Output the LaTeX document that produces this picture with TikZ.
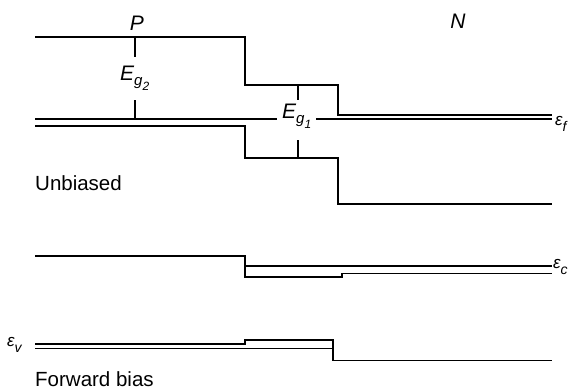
\documentclass[tikz,border=0pt]{standalone}
\usepackage{fontspec}
\setmainfont{Liberation Sans}
% band-gap label E with a twice-lowered subscript g_n
\newcommand\gaplabel[1]{E\raisebox{-0.27em}{\fontsize{15}{15}\selectfont g\raisebox{-0.3em}{\fontsize{12}{12}\selectfont #1}}}
% energy level symbol with a lowered subscript
\newcommand\enlevel[1]{\fontsize{17}{18}\selectfont\itshape\char"03B5\raisebox{-0.4em}{\fontsize{14}{14}\selectfont #1}}
\begin{document}
\begin{tikzpicture}[x=1pt,y=-1pt,
  band/.style={line width=1.9pt},
  level/.style={line width=1.3pt},
  lbl/.style={font=\fontsize{21}{22}\selectfont\itshape, inner sep=0pt},
  sym/.style={inner sep=0pt, anchor=base west},
  caption/.style={font=\fontsize{20.5}{22}\selectfont, anchor=base west, inner sep=0pt}]
\useasboundingbox (0,0) rectangle (571,389);

% ---------- unbiased junction ----------
\node[lbl, anchor=base] (P) at (137,30) {P};
\node[lbl, anchor=base] (N) at (458,28) {N};

% conduction band edge
\draw[band] (35,37) -- (245,37) -- (245,85) -- (338,85) -- (338,115) -- (552,115);
% Fermi level, broken around the E_g1 label
\draw[level] (35,119) -- (277,119);
\draw[level] (316,119) -- (552,119);
% valence band edge
\draw[band] (35,126) -- (245,126) -- (245,158) -- (338,158) -- (338,204) -- (552,204);

% gap markers
\node[lbl, anchor=base west] (eg2) at (120,80) {\gaplabel{2}};
\draw[level] (135,37) -- (135,57);
\draw[level] (135,100) -- (135,119);
\node[lbl, anchor=base west] (eg1) at (282,118) {\gaplabel{1}};
\draw[level] (298,85) -- (298,100);
\draw[level] (298,140) -- (298,158);

\node[sym] (ef) at (555,125) {\enlevel{f}};
\node[caption] (unb) at (35,190) {Unbiased};

% ---------- forward bias ----------
\draw[band] (35,256) -- (245,256) -- (245,277) -- (342,277) -- (342,273.5) -- (552,273.5);
\draw[level] (245,266) -- (552,266);
\node[sym] (ec) at (553,268) {\enlevel{c}};

\draw[band] (35,344) -- (245,344) -- (245,340) -- (333,340) -- (333,360.5) -- (552,360.5);
\draw[level] (35,348.3) -- (333,348.3);
\node[sym] (ev) at (7,346) {\enlevel{v}};

\node[caption] (fwd) at (35,386) {Forward bias};
\end{tikzpicture}
\end{document}
